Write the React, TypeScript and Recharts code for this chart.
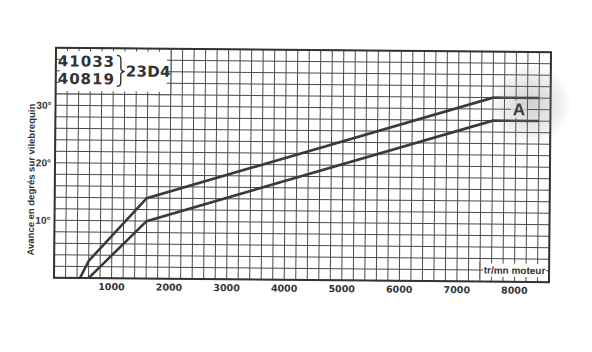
import React from 'react'
import {
  LineChart,
  Line,
  XAxis,
  YAxis,
  CartesianGrid,
  ReferenceArea,
  ReferenceDot,
  Label,
} from 'recharts'

// advance curve, upper limit
const upperRpm = [450, 600, 1600, 7600, 8400]
const upperDeg = [0, 3, 14, 32, 32]
// advance curve, lower limit
const lowerRpm = [600, 1600, 7600, 8400]
const lowerDeg = [0, 10, 28, 28]

const rpmGrid = Array.from({ length: 44 }, (_, i) => i * 200)
const degGrid = Array.from({ length: 21 }, (_, i) => i * 2)
const rpmLabels = [1000, 2000, 3000, 4000, 5000, 6000, 7000, 8000]
const degLabels = [10, 20, 30]

const refCodes = ['41033', '40819']
const engineCode = '23D4'
const yTitle = 'Avance en degrés sur vilebrequin'
const xTitle = 'tr/mn moteur'
const curveTag = 'A'

const upperData = upperRpm.map((rpm, i) => ({ rpm, deg: upperDeg[i] }))
const lowerData = lowerRpm.map((rpm, i) => ({ rpm, deg: lowerDeg[i] }))

const INK = '#333'
const GRID = '#4a4a4a'
const CURVE = '#3a3a3a'

// short grid stubs poking into a white box from its edges
function stubs(
  bx: number, by: number, bw: number, bh: number,
  rx1: number, rx2: number, ry1: number, ry2: number, len: number,
) {
  const out: React.ReactNode[] = []
  rpmGrid.forEach((v) => {
    if (v <= rx1 || v >= rx2) return
    const px = bx + ((v - rx1) / (rx2 - rx1)) * bw
    out.push(<line key={'t' + v} x1={px} y1={by} x2={px} y2={by + len} stroke={GRID} />)
    out.push(<line key={'b' + v} x1={px} y1={by + bh} x2={px} y2={by + bh - len} stroke={GRID} />)
  })
  degGrid.forEach((d) => {
    if (d <= ry1 || d >= ry2) return
    const py = by + ((ry2 - d) / (ry2 - ry1)) * bh
    out.push(<line key={'l' + d} x1={bx} y1={py} x2={bx + len + 1} y2={py} stroke={GRID} />)
    out.push(<line key={'r' + d} x1={bx + bw} y1={py} x2={bx + bw - len - 1} y2={py} stroke={GRID} />)
  })
  return out
}

const codeFont = { fontFamily: 'DejaVu Sans', fontWeight: 700, fill: INK }

function CodeBox(p: any) {
  const { x, y, width, height } = p
  const x0 = x + 61
  return (
    <g>
      <rect x={x} y={y} width={width} height={height} fill="#fff" stroke={GRID} />
      {stubs(x, y, width, height, 0, 2000, 32, 40, 3)}
      <text x={x + 2} y={y + 18.5} fontSize={15} letterSpacing={1} {...codeFont}>
        {refCodes[0]}
      </text>
      <text x={x + 2} y={y + 36} fontSize={15} letterSpacing={1} {...codeFont}>
        {refCodes[1]}
      </text>
      <path
        d={`M${x0},${y + 7} Q${x0 + 4},${y + 7} ${x0 + 4},${y + 11} L${x0 + 4},${y + 19} Q${x0 + 4},${y + 23} ${x0 + 8},${y + 23} Q${x0 + 4},${y + 23} ${x0 + 4},${y + 27} L${x0 + 4},${y + 34} Q${x0 + 4},${y + 38} ${x0},${y + 38}`}
        fill="none"
        stroke={INK}
        strokeWidth={1.4}
      />
      <text x={x + 70} y={y + 28} fontSize={15} letterSpacing={0.3} {...codeFont}>
        {engineCode}
      </text>
    </g>
  )
}

function UnitBox(p: any) {
  const { x, y, width, height } = p
  const top = Math.min(y, y + height)
  const h = Math.abs(height)
  return (
    <g>
      <rect x={x} y={top} width={width} height={h} fill="#ffffff" fillOpacity={1} />
      <line x1={x} y1={top} x2={x} y2={top + h} stroke={GRID} />
      {stubs(x, top, width, h, 7400, 8600, 0.5, 3.5, 2)}
      <text
        x={x + width / 2}
        y={top + h / 2 + 3.5}
        textAnchor="middle"
        fontFamily="Liberation Sans"
        fontWeight={700}
        fontSize={10}
        fill={INK}
      >
        {xTitle}
      </text>
    </g>
  )
}

function TagMark(p: any) {
  const { cx, cy } = p
  return (
    <g>
      <rect x={cx - 8} y={cy - 9} width={16} height={18} fill="#fff" fillOpacity={0.85} />
      <text
        x={cx}
        y={cy + 6}
        textAnchor="middle"
        fontFamily="Liberation Sans"
        fontWeight={700}
        fontSize={17}
        fill="#2a2a2a"
      >
        {curveTag}
      </text>
    </g>
  )
}

function YTitle(p: any) {
  const vb = p.viewBox
  const cx = vb.x - 3
  const cy = vb.y + vb.height / 2 + 17
  return (
    <text
      x={cx}
      y={cy}
      transform={`rotate(-90 ${cx} ${cy})`}
      textAnchor="middle"
      dominantBaseline="middle"
      fontFamily="Liberation Sans"
      fontWeight={700}
      fontSize={9.5}
      fill={INK}
    >
      {yTitle}
    </text>
  )
}

export default function App() {
  return (
    <div
      style={{
        position: 'absolute',
        left: 0,
        top: 0,
        width: 592,
        height: 352,
        background: '#fff',
        transform: 'rotate(0.5deg)',
        transformOrigin: '303px 165px',
      }}
    >
      <LineChart width={592} height={352} margin={{ top: 50, right: 42, bottom: 52, left: 35 }}>
        <CartesianGrid stroke={GRID} strokeWidth={1} />
        <XAxis
          type="number"
          dataKey="rpm"
          domain={[0, 8600]}
          ticks={rpmGrid}
          interval={0}
          tickFormatter={(v: number) => (rpmLabels.includes(v) ? String(v) : '')}
          axisLine={false}
          tickLine={false}
          tickSize={0}
          tickMargin={5}
          height={20}
          allowDataOverflow
          tick={{ fontFamily: 'DejaVu Sans', fontWeight: 700, fontSize: 9.5, fill: INK }}
        />
        <YAxis
          type="number"
          domain={[0, 40]}
          ticks={degGrid}
          interval={0}
          tickFormatter={(v: number) => (degLabels.includes(v) ? `${v}°` : '')}
          axisLine={false}
          tickLine={false}
          tickSize={0}
          tickMargin={4}
          width={20}
          tick={{ fontFamily: 'Liberation Sans', fontWeight: 700, fontSize: 10, fill: INK }}
        >
          <Label content={YTitle} />
        </YAxis>
        <ReferenceArea x1={0} x2={2000} y1={32} y2={40} shape={CodeBox} />
        <ReferenceArea x1={7400} x2={8600} y1={0.5} y2={3.5} shape={UnitBox} />
        <ReferenceArea x1={0} x2={8600} y1={0} y2={40} fill="none" stroke={INK} strokeWidth={2} />
        <Line
          data={upperData}
          dataKey="deg"
          type="linear"
          stroke={CURVE}
          strokeWidth={2.6}
          dot={false}
          isAnimationActive={false}
        />
        <Line
          data={lowerData}
          dataKey="deg"
          type="linear"
          stroke={CURVE}
          strokeWidth={2.6}
          dot={false}
          isAnimationActive={false}
        />
        <ReferenceDot x={8050} y={30} r={0} shape={TagMark} ifOverflow="visible" />
      </LineChart>
      {/* grey smudge of the scan around the "A" mark */}
      <div
        style={{
          position: 'absolute',
          left: 490,
          top: 62,
          width: 80,
          height: 80,
          pointerEvents: 'none',
          background:
            'radial-gradient(circle at 50% 50%, rgba(110,110,110,0.32) 0%, rgba(150,150,150,0.16) 50%, rgba(200,200,200,0) 72%)',
        }}
      />
    </div>
  )
}
